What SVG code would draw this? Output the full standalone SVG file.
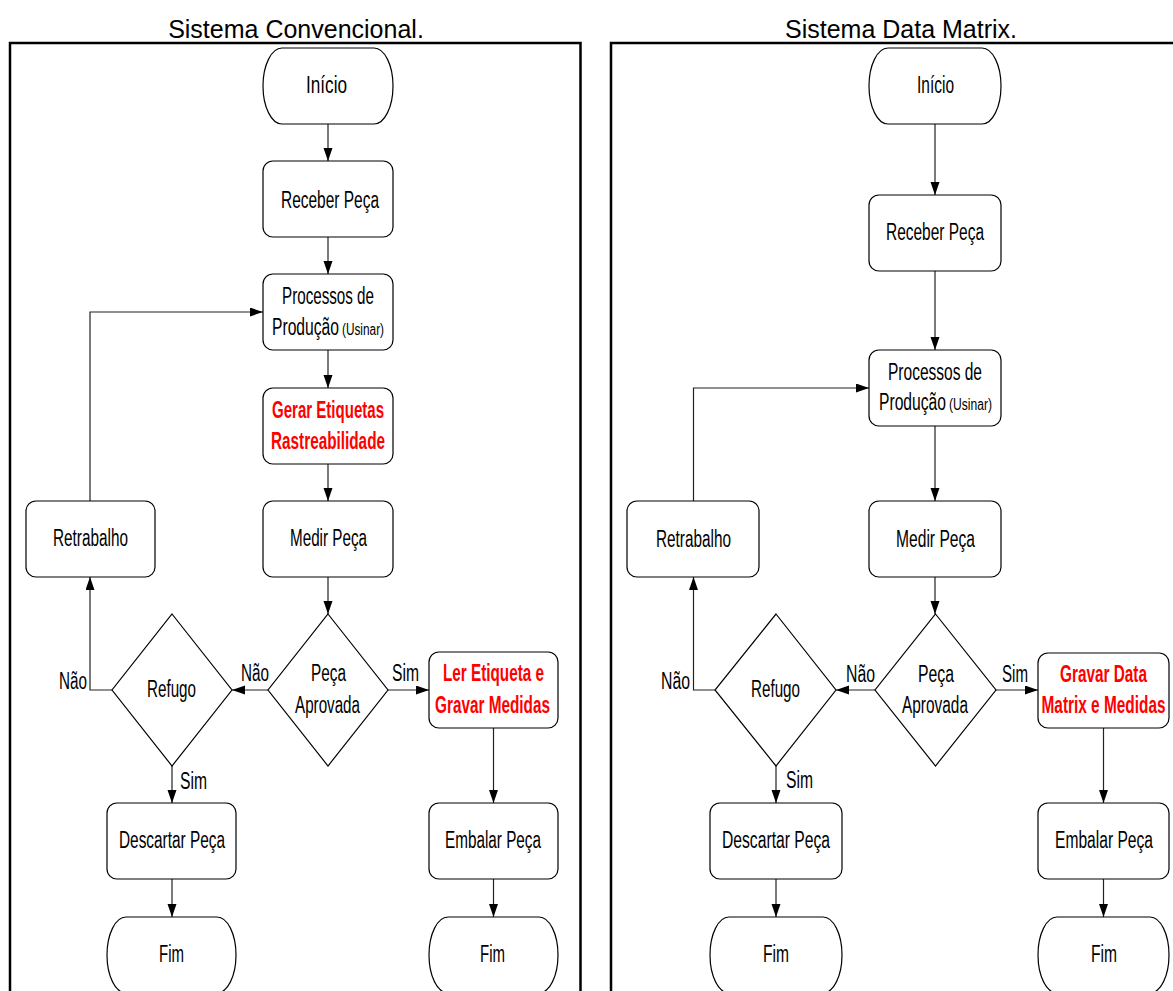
<svg xmlns="http://www.w3.org/2000/svg" width="1173" height="991" viewBox="0 0 1173 991">
<defs>
<style>
.title{font-family:"Liberation Sans",Arial,sans-serif;font-size:25px;fill:#000;text-anchor:middle}
.lbl{font-family:"Liberation Sans Narrow","Liberation Sans",Arial,sans-serif;font-size:23px;fill:#000;text-anchor:middle}
.sm{font-family:"Liberation Sans Narrow","Liberation Sans",Arial,sans-serif;font-size:16px;fill:#000}
.st{font-family:"Liberation Sans Narrow","Liberation Sans",Arial,sans-serif;font-size:23px;fill:#000}
.red{font-family:"Liberation Sans Narrow","Liberation Sans",Arial,sans-serif;font-size:23px;font-weight:bold;fill:#ff0000;text-anchor:middle}
.box{fill:#fff;stroke:#000;stroke-width:1.2}
.panel{fill:none;stroke:#000;stroke-width:2.5}
.con{fill:none;stroke:#222;stroke-width:1.2;marker-end:url(#arr)}
</style>
<marker id="arr" markerUnits="userSpaceOnUse" markerWidth="13" markerHeight="10" refX="13" refY="4.5" orient="auto">
<path d="M0,0 L13,4.5 L0,9 Z" fill="#000"/>
</marker>
</defs>
<rect width="1173" height="991" fill="#fff"/>

<g id="panels">
<text class="title" x="296" y="38">Sistema Convencional.</text>
<path class="panel" d="M10,995 V43 H580.5 V995"/>
<text class="title" x="901" y="38">Sistema Data Matrix.</text>
<path class="panel" d="M611,995 V43 H1175"/>
</g>

<g id="connectors">
<path class="con" d="M328,124 V161"/>
<path class="con" d="M328,237 V274"/>
<path class="con" d="M328,350 V388"/>
<path class="con" d="M328,464 V501"/>
<path class="con" d="M328,577 V614"/>
<path class="con" d="M268,690 H232"/>
<path class="con" d="M388,690 H429"/>
<path class="con" d="M112,690 H90 V577"/>
<path class="con" d="M90,501 V312 H263"/>
<path class="con" d="M172,766 V803"/>
<path class="con" d="M493.5,728 V803"/>
<path class="con" d="M172,879 V917"/>
<path class="con" d="M493.5,879 V917"/>

<path class="con" d="M935,124 V195"/>
<path class="con" d="M935,271 V350"/>
<path class="con" d="M935,426 V501"/>
<path class="con" d="M935,577 V614"/>
<path class="con" d="M875,690 H836"/>
<path class="con" d="M996,690 H1038"/>
<path class="con" d="M715,690 H693.5 V577"/>
<path class="con" d="M693.5,501 V388 H869"/>
<path class="con" d="M776,766 V803"/>
<path class="con" d="M1103.5,728 V803"/>
<path class="con" d="M776,879 V917"/>
<path class="con" d="M1103.5,879 V917"/>
</g>

<g id="L-inicio"><rect class="box" x="263" y="48" width="130" height="76" rx="19" ry="38"/><text class="lbl" x="326.5" y="93" textLength="41" lengthAdjust="spacingAndGlyphs">Início</text></g>
<g id="L-receber"><rect class="box" x="263" y="161" width="130" height="76" rx="10"/><text class="lbl" x="330" y="208" textLength="98" lengthAdjust="spacingAndGlyphs">Receber Peça</text></g>
<g id="L-processos"><rect class="box" x="263" y="274" width="130" height="76" rx="10"/><text class="lbl" x="328" y="304" textLength="92" lengthAdjust="spacingAndGlyphs">Processos de</text><text class="st" x="272" y="335" textLength="67" lengthAdjust="spacingAndGlyphs">Produção</text><text class="sm" x="342" y="335" textLength="42" lengthAdjust="spacingAndGlyphs">(Usinar)</text></g>
<g id="L-gerar"><rect class="box" x="263" y="388" width="130" height="76" rx="10"/><text class="red" x="328" y="418" textLength="112" lengthAdjust="spacingAndGlyphs">Gerar Etiquetas</text><text class="red" x="328" y="449" textLength="114" lengthAdjust="spacingAndGlyphs">Rastreabilidade</text></g>
<g id="L-medir"><rect class="box" x="263" y="501" width="130" height="76" rx="10"/><text class="lbl" x="328.5" y="546" textLength="77" lengthAdjust="spacingAndGlyphs">Medir Peça</text></g>
<g id="L-retrabalho"><rect class="box" x="26" y="501" width="129" height="76" rx="10"/><text class="lbl" x="90.5" y="546" textLength="75" lengthAdjust="spacingAndGlyphs">Retrabalho</text></g>
<g id="L-aprovada"><path class="box" d="M328,614 L388,690 L328,766 L268,690 Z"/><text class="lbl" x="328.5" y="681" textLength="35" lengthAdjust="spacingAndGlyphs">Peça</text><text class="lbl" x="327.5" y="713" textLength="65" lengthAdjust="spacingAndGlyphs">Aprovada</text></g>
<g id="L-refugo"><path class="box" d="M172,614 L232,690 L172,766 L112,690 Z"/><text class="lbl" x="171.5" y="697" textLength="49" lengthAdjust="spacingAndGlyphs">Refugo</text></g>
<g id="L-ler"><rect class="box" x="429" y="652" width="129" height="76" rx="10"/><text class="red" x="493.5" y="681" textLength="101" lengthAdjust="spacingAndGlyphs">Ler Etiqueta e</text><text class="red" x="492.5" y="713" textLength="115" lengthAdjust="spacingAndGlyphs">Gravar Medidas</text></g>
<g id="L-descartar"><rect class="box" x="107" y="803" width="129" height="76" rx="10"/><text class="lbl" x="172" y="848" textLength="106" lengthAdjust="spacingAndGlyphs">Descartar Peça</text></g>
<g id="L-embalar"><rect class="box" x="429" y="803" width="129" height="76" rx="10"/><text class="lbl" x="493" y="848" textLength="96" lengthAdjust="spacingAndGlyphs">Embalar Peça</text></g>
<g id="L-fim1"><rect class="box" x="107" y="917" width="129" height="76" rx="19" ry="38"/><text class="lbl" x="171.5" y="962" textLength="25" lengthAdjust="spacingAndGlyphs">Fim</text></g>
<g id="L-fim2"><rect class="box" x="429" y="917" width="129" height="76" rx="19" ry="38"/><text class="lbl" x="492.5" y="962" textLength="25" lengthAdjust="spacingAndGlyphs">Fim</text></g>
<g id="L-labels">
<text class="lbl" x="73" y="689" textLength="28" lengthAdjust="spacingAndGlyphs">Não</text>
<text class="lbl" x="255" y="681" textLength="28" lengthAdjust="spacingAndGlyphs">Não</text>
<text class="lbl" x="405.5" y="681" textLength="27" lengthAdjust="spacingAndGlyphs">Sim</text>
<text class="lbl" x="193.5" y="789" textLength="27" lengthAdjust="spacingAndGlyphs">Sim</text>
</g>

<g id="R-inicio"><rect class="box" x="869" y="48" width="132" height="76" rx="19" ry="38"/><text class="lbl" x="935.5" y="93" textLength="37" lengthAdjust="spacingAndGlyphs">Início</text></g>
<g id="R-receber"><rect class="box" x="869" y="195" width="132" height="76" rx="10"/><text class="lbl" x="935" y="240" textLength="98" lengthAdjust="spacingAndGlyphs">Receber Peça</text></g>
<g id="R-processos"><rect class="box" x="869" y="350" width="132" height="76" rx="10"/><text class="lbl" x="935" y="380" textLength="94" lengthAdjust="spacingAndGlyphs">Processos de</text><text class="st" x="879" y="410" textLength="67" lengthAdjust="spacingAndGlyphs">Produção</text><text class="sm" x="949" y="410" textLength="43" lengthAdjust="spacingAndGlyphs">(Usinar)</text></g>
<g id="R-medir"><rect class="box" x="869" y="501" width="132" height="76" rx="10"/><text class="lbl" x="935.5" y="547" textLength="79" lengthAdjust="spacingAndGlyphs">Medir Peça</text></g>
<g id="R-retrabalho"><rect class="box" x="627" y="501" width="132" height="76" rx="10"/><text class="lbl" x="693.5" y="547" textLength="75" lengthAdjust="spacingAndGlyphs">Retrabalho</text></g>
<g id="R-aprovada"><path class="box" d="M935.5,614 L996,690 L935.5,766 L875,690 Z"/><text class="lbl" x="936" y="682" textLength="36" lengthAdjust="spacingAndGlyphs">Peça</text><text class="lbl" x="935" y="713" textLength="66" lengthAdjust="spacingAndGlyphs">Aprovada</text></g>
<g id="R-refugo"><path class="box" d="M776,614 L836,690 L776,766 L715,690 Z"/><text class="lbl" x="775.5" y="697" textLength="49" lengthAdjust="spacingAndGlyphs">Refugo</text></g>
<g id="R-gravar"><rect class="box" x="1038" y="653" width="131" height="75" rx="10"/><text class="red" x="1103.5" y="682" textLength="87" lengthAdjust="spacingAndGlyphs">Gravar Data</text><text class="red" x="1103.5" y="713" textLength="124" lengthAdjust="spacingAndGlyphs">Matrix e Medidas</text></g>
<g id="R-descartar"><rect class="box" x="710" y="803" width="132" height="76" rx="10"/><text class="lbl" x="776" y="848" textLength="108" lengthAdjust="spacingAndGlyphs">Descartar Peça</text></g>
<g id="R-embalar"><rect class="box" x="1038" y="803" width="131" height="76" rx="10"/><text class="lbl" x="1104" y="848" textLength="98" lengthAdjust="spacingAndGlyphs">Embalar Peça</text></g>
<g id="R-fim1"><rect class="box" x="710" y="917" width="132" height="76" rx="19" ry="38"/><text class="lbl" x="776" y="962" textLength="26" lengthAdjust="spacingAndGlyphs">Fim</text></g>
<g id="R-fim2"><rect class="box" x="1038" y="917" width="131" height="76" rx="19" ry="38"/><text class="lbl" x="1104" y="962" textLength="26" lengthAdjust="spacingAndGlyphs">Fim</text></g>
<g id="R-labels">
<text class="lbl" x="675.5" y="689" textLength="29" lengthAdjust="spacingAndGlyphs">Não</text>
<text class="lbl" x="860.5" y="682" textLength="29" lengthAdjust="spacingAndGlyphs">Não</text>
<text class="lbl" x="1015" y="682" textLength="26" lengthAdjust="spacingAndGlyphs">Sim</text>
<text class="lbl" x="799.5" y="788" textLength="27" lengthAdjust="spacingAndGlyphs">Sim</text>
</g>
</svg>
